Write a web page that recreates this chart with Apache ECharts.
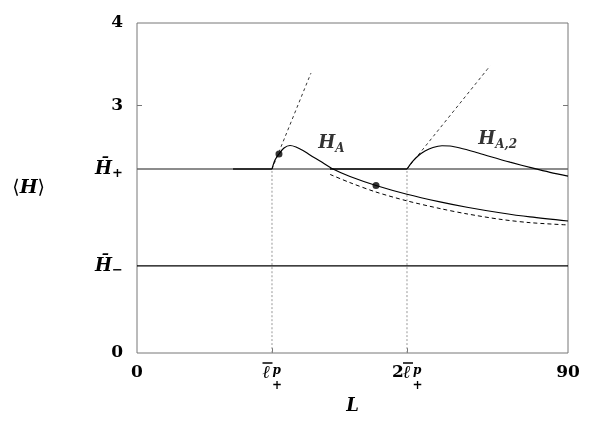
<!DOCTYPE html>
<html>
<head>
<meta charset="utf-8">
<script src="https://cdn.jsdelivr.net/npm/echarts@6/dist/echarts.min.js"></script>
<style>
  html, body { margin: 0; padding: 0; background: #fff; }
  #chart { width: 609px; height: 423px; }
</style>
</head>
<body>
<div id="chart"></div>
<script>
// 参考值
var ellP = 28.19,          // \bar\ell_+^p
    hPlus = 2.23,          // \bar H_+
    hMinus = 1.055;        // \bar H_-

var xTickVals = [0, ellP, 2 * ellP, 90];
var xTickLabels = [
  '{top| }\n{n|0}',
  '{bar| }{w9| }\n{l|ℓ}{sup|p}\n{w10| }{sub|+}',
  '{w11| }{bar| }{w9| }\n{n2|2}{l|ℓ}{sup|p}\n{w11| }{w10| }{sub|+}',
  '{top| }\n{n|90}'
];
var yTickVals = [0, hMinus, hPlus, 3, 4];
var yTickLabels = ['{n|0}', '{h|H\u0304}{ysub|−}', '{h|H\u0304}{ysub|+}', '{n|3}', '{n|4}'];

// H_A 曲线
var curveA = [
  [28.19, 2.230], [28.82, 2.339], [29.65, 2.412], [30.70, 2.485], [31.95, 2.515],
  [33.20, 2.497], [34.66, 2.455], [36.12, 2.400], [38.21, 2.327], [40.93, 2.230],
  [44.48, 2.139], [49.91, 2.030], [56.38, 1.924], [63.27, 1.832], [68.91, 1.767],
  [75.80, 1.700], [82.06, 1.649], [90.00, 1.600]
];
// 虚线曲线
var curveDashed = [
  [40.30, 2.165], [44.48, 2.065], [49.91, 1.951], [56.38, 1.844], [63.27, 1.751],
  [68.91, 1.686], [75.80, 1.621], [82.06, 1.580], [90.00, 1.552]
];
// H_A,2 曲线
var curveA2 = [
  [56.38, 2.230], [57.42, 2.315], [58.68, 2.388], [60.14, 2.448], [61.81, 2.491],
  [63.69, 2.512], [65.36, 2.509], [67.45, 2.485], [70.58, 2.436], [73.71, 2.382],
  [77.89, 2.313], [82.69, 2.240], [86.24, 2.190], [90.00, 2.145]
];
// 切线
var tangent1 = [[28.19, 2.230], [36.33, 3.394]];
var tangent2 = [[56.38, 2.230], [73.71, 3.479]];
// 黑色加粗段
var hPlusSeg1 = [[20.05, hPlus], [ellP, hPlus]];
var hPlusSeg2 = [[40.30, hPlus], [2 * ellP, hPlus]];
// 点
var dots = [[29.65, 2.412], [49.91, 2.030]];
// 曲线标签
var curveLabels = [
  { value: [40.6, 2.545], text: '{h|H}{sub|A}' },
  { value: [75.3, 2.594], text: '{h|H}{sub|A,2}' }
];

var serif = 'DejaVu Serif';
var richMath = {
  top: { fontSize: 1, lineHeight: 4, height: 4 },
  bar: { fontSize: 1, lineHeight: 4, width: 10, height: 1.5, backgroundColor: '#000', align: 'left' },
  n: { fontFamily: serif, fontWeight: 'bold', fontSize: 17, color: '#000', lineHeight: 16 },
  n2: { fontFamily: serif, fontWeight: 'bold', fontSize: 17, color: '#000', lineHeight: 16, width: 11, align: 'left' },
  l: { fontFamily: serif, fontWeight: 'bold', fontStyle: 'italic', fontSize: 18, color: '#000', lineHeight: 16, width: 10, align: 'left' },
  h: { fontFamily: serif, fontWeight: 'bold', fontStyle: 'italic', fontSize: 18, color: '#000', lineHeight: 22 },
  sup: { fontFamily: serif, fontWeight: 'bold', fontStyle: 'italic', fontSize: 12, color: '#000', verticalAlign: 'top', lineHeight: 16, width: 9, align: 'left' },
  sub: { fontFamily: serif, fontWeight: 'bold', fontSize: 12, color: '#000', lineHeight: 10, width: 9, align: 'left' },
  ysub: { fontFamily: serif, fontWeight: 'bold', fontSize: 13, color: '#000', verticalAlign: 'bottom', lineHeight: 22 },
  w9: { fontSize: 1, width: 9 },
  w10: { fontSize: 1, width: 10 },
  w11: { fontSize: 1, width: 11 }
};

function nearestLabel(v, vals, labels) {
  var best = 0;
  for (var i = 1; i < vals.length; i++) {
    if (Math.abs(vals[i] - v) < Math.abs(vals[best] - v)) best = i;
  }
  return labels[best];
}

var chart = echarts.init(document.getElementById('chart'));

function lineSeries(data, color, width, type) {
  return {
    type: 'line', data: data, showSymbol: false, symbol: 'none', silent: true,
    smooth: 0.3, animation: false,
    lineStyle: { color: color, width: width, type: type || 'solid' }
  };
}

chart.setOption({
  animation: false,
  grid: {
    left: 137, right: 41, top: 23, bottom: 70, containLabel: false, outerBoundsMode: 'none',
    show: true, borderColor: '#777', borderWidth: 1
  },
  xAxis: {
    type: 'value', min: 0, max: 90,
    name: 'L', nameLocation: 'middle', nameGap: 44,
    nameTextStyle: { fontFamily: serif, fontWeight: 'bold', fontStyle: 'italic', fontSize: 18, color: '#000' },
    axisLine: { show: false },
    splitLine: { show: false },
    axisTick: { show: true, inside: true, length: 5, customValues: [ellP, 2 * ellP], lineStyle: { color: '#777' } },
    axisLabel: {
      customValues: xTickVals, margin: 8, verticalAlign: 'top',
      formatter: function(v) { return nearestLabel(v, xTickVals, xTickLabels); },
      rich: richMath
    }
  },
  yAxis: [{
    type: 'value', min: 0, max: 4,
    name: '{a|⟨}{h|H}{a|⟩}', nameLocation: 'middle', nameRotate: 0, nameGap: 92,
    nameTextStyle: { align: 'right', rich: {
      a: { fontFamily: serif, fontSize: 19, color: '#000' },
      h: { fontFamily: serif, fontWeight: 'bold', fontStyle: 'italic', fontSize: 19, color: '#000' }
    } },
    axisLine: { show: false },
    splitLine: { show: false },
    axisTick: { show: true, inside: true, length: 5, customValues: [3], lineStyle: { color: '#777' } },
    axisLabel: {
      customValues: yTickVals, margin: 14,
      formatter: function(v) { return nearestLabel(v, yTickVals, yTickLabels); },
      rich: richMath
    }
  }, {
    type: 'value', min: 0, max: 4, position: 'right',
    axisLine: { show: false }, splitLine: { show: false },
    axisTick: { show: true, inside: true, length: 5, customValues: [3], lineStyle: { color: '#777' } },
    axisLabel: { show: false }
  }],
  series: [
    // 竖直点线
    lineSeries([[ellP, 0], [ellP, hPlus]], '#999', 1, [2, 2]),
    lineSeries([[2 * ellP, 0], [2 * ellP, hPlus]], '#999', 1, [2, 2]),
    // H+ 与 H- 水平线
    lineSeries([[0, hPlus], [90, hPlus]], '#666', 1.5),
    lineSeries([[0, hMinus], [90, hMinus]], '#000', 1.2),
    lineSeries(hPlusSeg1, '#111', 1.5),
    lineSeries(hPlusSeg2, '#111', 1.5),
    // 切线
    lineSeries(tangent1, '#333', 1, [3, 3]),
    lineSeries(tangent2, '#333', 1, [3, 3]),
    // 曲线
    lineSeries(curveDashed, '#000', 1, [4, 3]),
    lineSeries(curveA, '#000', 1.2),
    lineSeries(curveA2, '#000', 1.2),
    {
      type: 'scatter', data: dots, symbolSize: 7, silent: true,
      itemStyle: { color: '#000' }
    },
    {
      type: 'scatter', symbolSize: 0, silent: true,
      data: curveLabels.map(function(d) {
        return { value: d.value, label: { formatter: d.text } };
      }),
      label: {
        show: true, position: 'inside',
        rich: {
          h: { fontFamily: serif, fontWeight: 'bold', fontStyle: 'italic', fontSize: 18, color: '#000', lineHeight: 24 },
          sub: { fontFamily: serif, fontWeight: 'bold', fontStyle: 'italic', fontSize: 12, color: '#000', verticalAlign: 'bottom', lineHeight: 24 }
        }
      }
    }
  ]
});

window.addEventListener('resize', function() { chart.resize(); });
</script>
</body>
</html>
